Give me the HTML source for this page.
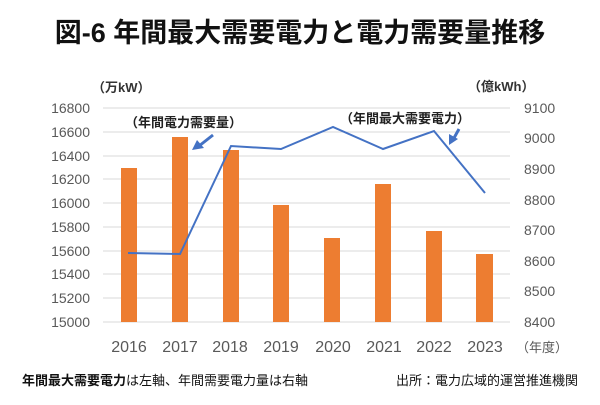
<!DOCTYPE html>
<html><head><meta charset="utf-8"><style>
body{margin:0;background:#fff;width:600px;height:400px;overflow:hidden;font-family:"Liberation Sans","Noto Sans CJK JP",sans-serif}
</style></head><body>
<svg width="600" height="400" xmlns="http://www.w3.org/2000/svg" font-family="Liberation Sans, Noto Sans CJK JP, sans-serif">
<text x="300" y="42" text-anchor="middle" font-size="27" font-weight="bold" fill="#111">図-6 年間最大需要電力と電力需要量推移</text>
<g stroke="#d9d9d9" stroke-width="1">
<line x1="103" x2="510" y1="108" y2="108"/><line x1="103" x2="510" y1="132" y2="132"/>
<line x1="103" x2="510" y1="156" y2="156"/><line x1="103" x2="510" y1="179" y2="179"/>
<line x1="103" x2="510" y1="203" y2="203"/><line x1="103" x2="510" y1="227" y2="227"/>
<line x1="103" x2="510" y1="251" y2="251"/><line x1="103" x2="510" y1="274" y2="274"/>
<line x1="103" x2="510" y1="298" y2="298"/><line x1="103" x2="510" y1="322" y2="322"/>
</g>
<g fill="#ed7d31">
<rect x="121" y="168" width="16" height="154"/><rect x="172" y="137" width="16" height="185"/>
<rect x="223" y="150" width="16" height="172"/><rect x="273" y="205" width="16" height="117"/>
<rect x="324" y="238" width="16" height="84"/><rect x="375" y="184" width="16" height="138"/>
<rect x="426" y="231" width="16" height="91"/><rect x="476" y="254" width="17" height="68"/>
</g>
<polyline fill="none" stroke="#4472c4" stroke-width="2" points="128,253 180,254 231,146 281,149 333,127 383,149 434,131 485,193"/>
<g font-size="14" fill="#595959" text-anchor="end">
<text x="90" y="113">16800</text><text x="90" y="137">16600</text><text x="90" y="161">16400</text>
<text x="90" y="184">16200</text><text x="90" y="208">16000</text><text x="90" y="232">15800</text>
<text x="90" y="256">15600</text><text x="90" y="279">15400</text><text x="90" y="303">15200</text>
<text x="90" y="327">15000</text>
</g>
<g font-size="14" fill="#595959">
<text x="524" y="113">9100</text><text x="524" y="143">9000</text><text x="524" y="174">8900</text>
<text x="524" y="205">8800</text><text x="524" y="235">8700</text><text x="524" y="266">8600</text>
<text x="524" y="296">8500</text><text x="524" y="327">8400</text>
</g>
<g font-size="16" fill="#595959" text-anchor="middle">
<text x="129" y="352">2016</text><text x="180" y="352">2017</text><text x="230" y="352">2018</text>
<text x="281" y="352">2019</text><text x="333" y="352">2020</text><text x="384" y="352">2021</text>
<text x="434" y="352">2022</text><text x="485" y="352">2023</text>
</g>
<text x="516" y="352" font-size="13" fill="#595959">（年度）</text>
<text x="92" y="92" font-size="13" font-weight="bold" fill="#333">（万kW）</text>
<text x="468" y="91" font-size="13" font-weight="bold" fill="#333">（億kWh）</text>
<text x="125" y="127" font-size="13" font-weight="bold" fill="#222">（年間電力需要量）</text>
<text x="340" y="123" font-size="13" font-weight="bold" fill="#222">（年間最大需要電力）</text>
<line x1="213" y1="135" x2="199" y2="146" stroke="#4472c4" stroke-width="3"/>
<polygon points="192,150 197,140 204,148" fill="#4472c4"/>
<line x1="459" y1="129" x2="454" y2="138" stroke="#4472c4" stroke-width="3"/>
<polygon points="449,145 449,134 458,139" fill="#4472c4"/>
<text x="22" y="385" font-size="13" fill="#111"><tspan font-weight="bold">年間最大需要電力</tspan>は左軸、年間需要電力量は右軸</text>
<text x="578" y="385" font-size="13" fill="#111" text-anchor="end">出所：電力広域的運営推進機関</text>
</svg>
</body></html>
